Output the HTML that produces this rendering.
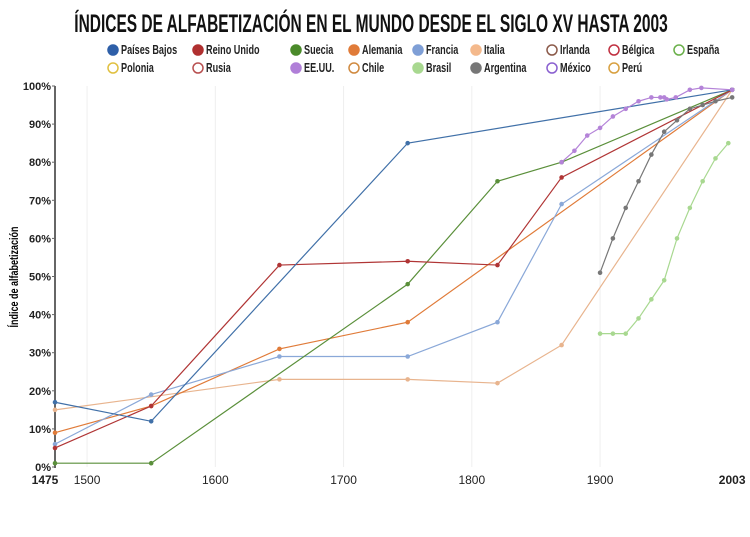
<!DOCTYPE html>
<html><head><meta charset="utf-8"><style>
body{margin:0;background:#fff;width:750px;height:532px;overflow:hidden;font-family:"Liberation Sans",sans-serif}
</style></head><body>
<svg width="750" height="532" xmlns="http://www.w3.org/2000/svg" font-family="Liberation Sans, sans-serif">
<text x="371" y="32" text-anchor="middle" font-size="25" font-weight="bold" fill="#111" transform="translate(371,0) scale(0.62,1) translate(-371,0)" font-family="Liberation Sans Narrow, Liberation Sans, sans-serif">ÍNDICES DE ALFABETIZACIÓN EN EL MUNDO DESDE EL SIGLO XV HASTA 2003</text>
<g font-size="12" font-weight="bold" fill="#222" id="leg"></g>
<g id="grid"></g>
<line x1="55" y1="86" x2="55" y2="468" stroke="#666" stroke-width="2"/>
<text x="18" y="277" font-size="12" font-weight="bold" transform="rotate(-90 18 277) translate(18,0) scale(0.75,1) translate(-18,0)" text-anchor="middle">Índice de alfabetización</text>
<g id="series"></g>
</svg>
<script>
const NS="http://www.w3.org/2000/svg";
const X=y=>55+(y-1475)*1.2825, Y=p=>467-p*3.81;
function el(t,a,p,txt){const e=document.createElementNS(NS,t);for(const k in a)e.setAttribute(k,a[k]);if(txt!==undefined)e.textContent=txt;p.appendChild(e);return e;}
const g=document.getElementById('grid');
for(const yr of [1500,1600,1700,1800,1900]){el('line',{x1:X(yr),x2:X(yr),y1:86,y2:467,stroke:'#eee'},g);}
for(let p=0;p<=100;p+=10){el('text',{x:51,y:Y(p)+4,'text-anchor':'end','font-size':11,'font-weight':'bold',fill:'#222'},g,p+'%');el('line',{x1:52,x2:55,y1:Y(p),y2:Y(p),stroke:'#666'},g);}
[[1475,'1475',1],[1500,'1500',0],[1600,'1600',0],[1700,'1700',0],[1800,'1800',0],[1900,'1900',0],[2003,'2003',1]].forEach(([y,t,b])=>el('text',{x:X(y)+(y==1475?-10:0),y:484,'text-anchor':'middle','font-size':12,'font-weight':b?'bold':'normal',fill:'#222'},g,t));
const S=[
['#e8b48e',[[1475,15],[1650,23],[1750,23],[1820,22],[1870,32],[2003,99]]],
['#e07b39',[[1475,9],[1550,16],[1650,31],[1750,38],[2003,99]]],
['#8aa8d8',[[1475,6],[1550,19],[1650,29],[1750,29],[1820,38],[1870,69],[2003,99]]],
['#5a8f3a',[[1475,1],[1550,1],[1750,48],[1820,75],[1870,80],[2003,99]]],
['#b03535',[[1475,5],[1550,16],[1650,53],[1750,54],[1820,53],[1870,76],[2003,99]]],
['#4070a8',[[1475,17],[1550,12],[1750,85],[2003,99]]],
['#a8d890',[[1900,35],[1910,35],[1920,35],[1930,39],[1940,44],[1950,49],[1960,60],[1970,68],[1980,75],[1990,81],[2000,85]]],
['#777',[[1900,51],[1910,60],[1920,68],[1930,75],[1940,82],[1950,88],[1960,91],[1970,94],[1980,95],[1990,96],[2003,97]]],
['#b483d8',[[1870,80],[1880,83],[1890,87],[1900,89],[1910,92],[1920,94],[1930,96],[1940,97],[1947,97],[1950,97],[1952,96.5],[1959,97],[1970,99],[1979,99.5],[2003,99]]]
];
const sg=document.getElementById('series');
S.forEach(([c,d])=>{el('polyline',{points:d.map(([a,b])=>X(a)+','+Y(b)).join(' '),fill:'none',stroke:c,'stroke-width':1.2},sg);d.forEach(([a,b])=>el('circle',{cx:X(a),cy:Y(b),r:2.3,fill:c},sg));});
const L=document.getElementById('leg');
const items=[[113,'Países Bajos','#2e5fa8',1],[198,'Reino Unido','#b03030',1],[296,'Suecia','#4a8a2a',1],[354,'Alemania','#e07b39',1],[418,'Francia','#7f9fd6',1],[476,'Italia','#f4b98c',1],[552,'Irlanda','#8b5a4a',0],[614,'Bélgica','#c03040',0],[679,'España','#6ab04a',0],
[113,'Polonia','#e0c040',0,1],[198,'Rusia','#b85050',0,1],[296,'EE.UU.','#b07fd8',1,1],[354,'Chile','#d08a40',0,1],[418,'Brasil','#a8d890',1,1],[476,'Argentina','#777',1,1],[552,'México','#8a60d0',0,1],[614,'Perú','#d8a040',0,1]];
items.forEach(([x,t,c,f,r])=>{const y=r?72:54;el('circle',{cx:x,cy:y-4,r:5,fill:f?c:'#fff',stroke:c,'stroke-width':1.5},L);const tx=el('text',{x:x+8,y:y,'font-size':13,transform:`translate(${x+8},0) scale(0.7,1) translate(${-(x+8)},0)`},L,t);});
</script>
</body></html>
